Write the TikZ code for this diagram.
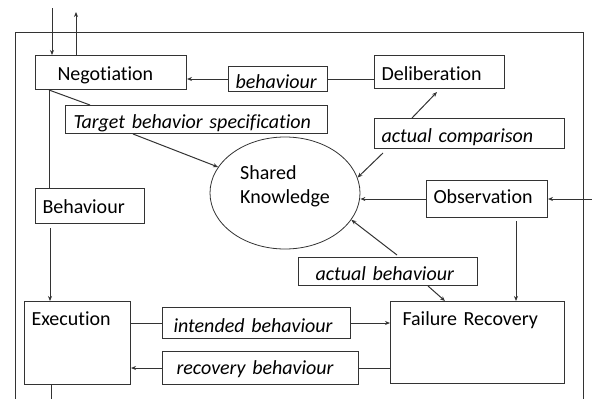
\documentclass[tikz,border=0pt]{standalone}
\usepackage{fontspec}
\setmainfont{Carlito}[Ligatures=NoCommon]
\usetikzlibrary{arrows.meta,shapes.geometric}

\tikzset{
  box/.style={draw=black!80, line width=1pt, anchor=north west, inner ysep=0pt,
    align=left, font={\fontsize{20}{24}\selectfont}},
  ibox/.style={box, font={\fontsize{20}{24}\selectfont\itshape}},
  arr/.style={->, draw=black!80, line width=1pt},
  ln/.style={draw=black!80, line width=1pt},
  >={Stealth[length=5pt,width=4pt]}
}

\begin{document}
\begin{tikzpicture}[x=1pt, y=-1pt]

\useasboundingbox (0,0) rectangle (592,399);

\draw[ln] (15,399) -- (15,32) -- (583,32) -- (583,399);

\node [box, minimum width=151pt, text width=107pt, inner xsep=22pt,
text height=25pt, text depth=9pt] (neg) at (35,55) {Negotiation};

\node [ibox, minimum width=99pt, text width=85pt, inner xsep=7pt,
text height=22pt, text depth=3pt] (behmsg) at (228,66) {behaviour};

\node [box, minimum width=130pt, text width=116pt, inner xsep=7pt,
text height=25pt, text depth=8pt] (delib) at (374,55) {Deliberation};

\node [ibox, minimum width=262pt, text width=246pt, inner xsep=8pt,
text height=23pt, text depth=5pt] (target) at (65,105) {Target behavior specification};

\node [ibox, minimum width=190pt, text width=176pt, inner xsep=7pt,
text height=24pt, text depth=6pt] (comp) at (374,118) {actual comparison};

\node [draw=black!80, line width=0.8pt, ellipse, minimum width=150pt, minimum height=112pt,
align=left, text depth=16pt, font={\fontsize{20}{24}\selectfont}] (shared) at (285,193) {Shared\\Knowledge};

\node [box, minimum width=121pt, text width=107pt, inner xsep=7pt,
text height=23pt, text depth=14pt] (obs) at (426,180) {Observation};

\node [box, minimum width=109pt, text width=95pt, inner xsep=7pt,
text height=25pt, text depth=10pt] (behv) at (35,188) {Behaviour};

\node [ibox, minimum width=179pt, text width=145pt, inner xsep=17pt,
text height=23pt, text depth=5pt] (actb) at (298,257) {actual behaviour};

\node [box, minimum width=106pt, text width=92pt, inner xsep=7pt,
text height=24pt, text depth=59pt] (exec) at (24,301) {Execution};

\node [box, minimum width=174pt, text width=150pt, inner xsep=12pt,
text height=24pt, text depth=58pt] (fail) at (390,301) {Failure Recovery};

\node [ibox, minimum width=188pt, text width=166pt, inner xsep=11pt,
text height=25pt, text depth=6pt] (intb) at (162,307) {intended behaviour};

\node [ibox, minimum width=196pt, text width=168pt, inner xsep=14pt,
text height=23pt, text depth=10pt] (recb) at (162,351) {recovery behaviour};

\coordinate (in top) at (52,8);
\coordinate (out top) at (76,12);
\coordinate (obs in) at (592,197);
\coordinate (exec out) at (51,399);

\draw[arr] (in top) -- (in top |- neg.north);
\draw[arr] (out top |- neg.north) -- (out top);
\draw[arr] (obs in) -- (obs in |- obs.east) -- (obs.east);
\draw[ln] (exec.south -| exec out) -- (exec out);

\draw[arr] (behmsg.west) -- (behmsg.west -| neg.east);
\draw[ln] (behmsg.east) -- (behmsg.east -| delib.west);
\draw[ln] ([xshift=14pt]neg.south west) -- ([xshift=25pt]target.north west);
\draw[ln] ([xshift=14pt]neg.south west) -- ([xshift=14pt]behv.north west);
\draw[arr] ([xshift=68pt]target.south west) -- (shared);
\draw[arr] ([xshift=38pt]comp.north west) -- ([xshift=63pt,yshift=-3pt]delib.south west);
\draw[arr] ([xshift=9pt,yshift=-4pt]comp.south west) -- (shared.12);
\draw[arr] (obs.west) -- (obs.west -| shared.east);
\draw[arr, shorten <=3pt] ([xshift=-32pt]obs.south east) -- ([xshift=-32pt]obs.south east |- fail.north);
\draw[arr] ([xshift=99pt,yshift=2pt]actb.north west) -- (shared.-22);
\draw[arr] ([xshift=130pt]actb.south west) -- ([xshift=55pt]fail.north west);
\draw[arr, shorten <=4pt] ([xshift=15pt]behv.south west) -- ([xshift=15pt]behv.south west |- exec.north);
\draw[ln] (intb.west) -- (intb.west -| exec.east);
\draw[arr] (intb.east) -- (intb.east -| fail.west);
\draw[ln] (recb.east -| fail.west) -- (recb.east);
\draw[arr] (recb.west) -- (recb.west -| exec.east);

\end{tikzpicture}
\end{document}
